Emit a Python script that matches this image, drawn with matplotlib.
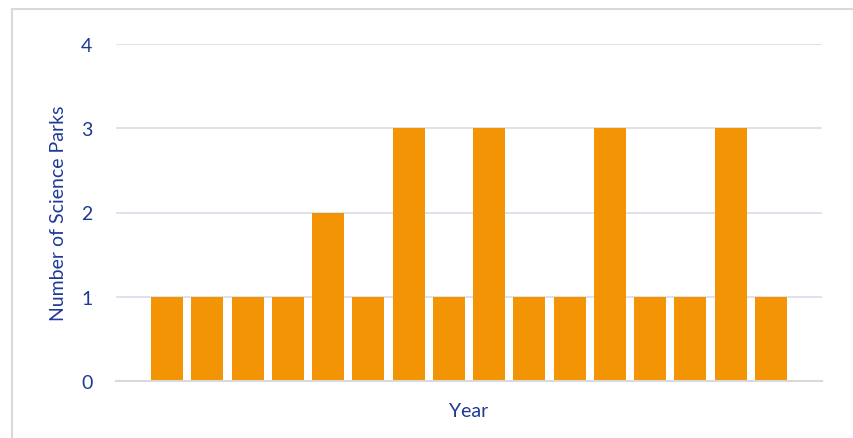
import matplotlib.pyplot as plt
from matplotlib.lines import Line2D

# bar values (one per year, year labels are not shown on the chart)
years = list(range(16))
parks = [1, 1, 1, 1, 2, 1, 3, 1, 3, 1, 1, 3, 1, 1, 3, 1]
y_ticks = [0, 1, 2, 3, 4]

text_color = "#1F3A96"
bar_color = "#F39404"
grid_color = "#D9DDEB"

plt.rcParams['font.family'] = ['Lato', 'DejaVu Sans']

fig = plt.figure(figsize=(8.54, 4.39), dpi=100)
ax = fig.add_axes([116 / 854, 1 - 382 / 439, (822 - 116) / 854, (382 - 45) / 439])

ax.bar(years, parks, width=0.79, color=bar_color, zorder=3)
ax.set_xlim(-1.27, len(years) - 1 + 1.27)
ax.set_ylim(0, 4)
ax.set_yticks(y_ticks)
ax.set_xticks([])

ax.grid(axis='y', color=grid_color, linewidth=1.2, zorder=0)
for side in ['top', 'right', 'left']:
    ax.spines[side].set_visible(False)
ax.spines['bottom'].set_color('#D9D9D9')
ax.spines['bottom'].set_linewidth(1.5)
ax.spines['bottom'].set_zorder(4)

ax.tick_params(axis='y', length=0, pad=17, labelsize=14, labelcolor=text_color)
ax.set_ylabel("Number of Science Parks", fontsize=14, color=text_color, labelpad=10)
ax.set_xlabel("Year", fontsize=14, color=text_color, labelpad=15)

# chart-area border (only top and left edges visible in the crop)
fig.add_artist(Line2D([12 / 854, 1], [1 - 10 / 439] * 2, color='#D9D9D9', linewidth=1.5))
fig.add_artist(Line2D([12 / 854] * 2, [0, 1 - 10 / 439], color='#D9D9D9', linewidth=1.5))

fig.savefig("out.png", dpi=100)
